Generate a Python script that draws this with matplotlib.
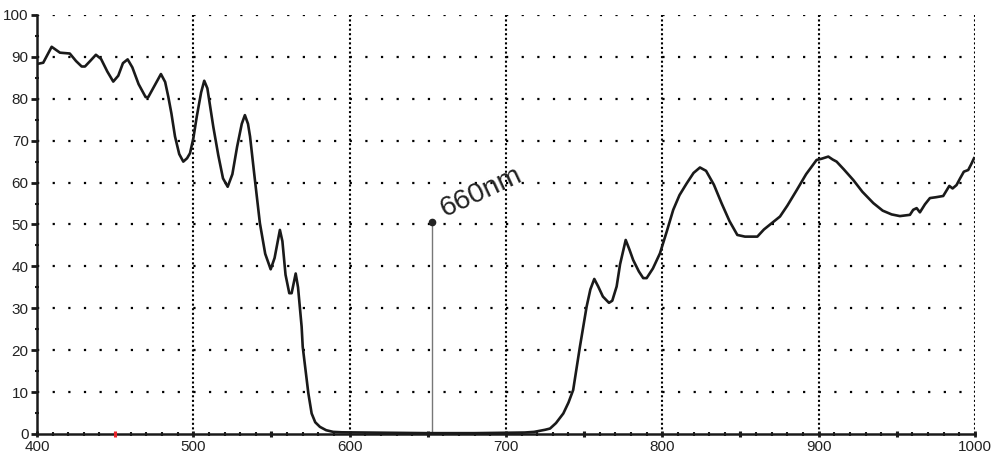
import matplotlib.pyplot as plt
from matplotlib.ticker import MultipleLocator

plt.rcParams['font.family'] = ['Liberation Sans', 'DejaVu Sans']

# wavelength (nm) and transmission (%)
wavelength = [400, 404, 409.4, 414.7, 421, 425, 428.6, 430.7, 434, 437.7, 441, 445,
              448.8, 452, 455, 458, 461, 465, 469.5, 471.2, 475, 479.3, 482, 484,
              486, 488.3, 491, 493.6, 496, 497.9, 500, 502.2, 505, 507, 509, 512.8,
              516, 519, 522, 525, 528, 531, 533, 535, 536.3, 539, 542.6, 546, 549.5,
              552, 555.4, 557, 559, 561.4, 562.9, 565.5, 567, 569.3, 570, 573.6,
              575.7, 578, 581, 585, 589.5, 595, 620, 650, 680, 700, 712, 718, 722,
              725, 728.2, 732, 736.7, 740, 743, 747.3, 751.6, 754, 756.5, 759, 762,
              765.9, 768, 770.8, 773, 776.6, 779, 781.4, 785, 787.8, 790, 794, 798.5,
              803, 807, 811, 815.6, 820, 824.1, 828, 833, 838, 843, 848, 852.9, 860.8,
              865, 870, 875.3, 880, 886, 892, 898.7, 902, 906.2, 909, 911.5, 916,
              922.2, 928, 935, 941, 946.7, 952, 958.4, 960.5, 962.7, 964.8, 968,
              971.2, 975, 979.7, 983.6, 985.7, 988.2, 990.5, 992.9, 995.7, 997.5,
              999.4]
transmission = [88.3, 88.6, 92.4, 91.0, 90.8, 89.0, 87.7, 87.7, 89.0, 90.5, 89.5, 86.5,
                84.1, 85.5, 88.5, 89.4, 87.5, 83.5, 80.4, 80.4, 83.0, 85.9, 84.0, 80.5,
                76.5, 71.0, 66.8, 65.0, 65.8, 67.0, 70.5, 75.7, 81.5, 84.3, 82.5, 73.3,
                66.5, 61.0, 59.0, 62.0, 68.5, 74.0, 76.1, 74.0, 71.0, 62.0, 50.3, 43.0,
                39.3, 42.0, 48.7, 46.0, 38.0, 33.6, 33.6, 38.3, 35.0, 25.6, 20.8, 9.7,
                4.9, 2.8, 1.7, 0.9, 0.5, 0.4, 0.3, 0.2, 0.2, 0.3, 0.35, 0.5, 0.8,
                1.0, 1.3, 2.6, 4.9, 7.5, 10.5, 20.8, 30.4, 34.5, 37.0, 35.2, 32.8,
                31.3, 31.8, 35.2, 40.5, 46.3, 44.0, 41.5, 38.8, 37.2, 37.2, 39.5, 43.1,
                48.5, 53.5, 57.0, 59.8, 62.3, 63.6, 62.8, 59.5, 55.0, 50.8, 47.5, 47.1,
                47.1, 48.8, 50.3, 51.9, 54.5, 58.2, 62.0, 65.4, 65.7, 66.2, 65.5, 65.0,
                63.2, 60.6, 57.8, 55.1, 53.3, 52.4, 52.0, 52.3, 53.5, 53.9, 52.9, 54.8,
                56.3, 56.5, 56.8, 59.2, 58.6, 59.4, 61.0, 62.6, 63.0, 64.3, 65.8]

marker_x = 652.5
marker_y = 50.7
marker_label = '660nm'
red_tick = 450

fig = plt.figure(figsize=(9.91, 4.59), dpi=100)
ax = fig.add_axes([0.0373, 0.0545, 0.9465, 0.9129])

ax.set_xlim(400, 1000)
ax.set_ylim(0, 100)

# sparse square dots across, dense dots down
for y in range(10, 101, 10):
    ax.axhline(y, color='black', lw=1.6, dashes=(1, 6.035), zorder=1)
for x in range(500, 1001, 100):
    ax.axvline(x, color='black', lw=1.5, dashes=(1, 1.2), zorder=1)

ax.plot(wavelength, transmission, color='#1a1a1a', lw=1.9, zorder=3,
        solid_joinstyle='round')

ax.plot([marker_x, marker_x], [0, marker_y], color='#777777', lw=1.0, zorder=2)
ax.plot([marker_x], [marker_y], 'o', color='#222222', ms=4.5, zorder=4)
ax.text(660.5, 51.9, marker_label, rotation=25, rotation_mode='anchor',
        ha='left', va='baseline', fontsize=20.5, color='#222222')

for side in ['top', 'right']:
    ax.spines[side].set_visible(False)
for side in ['left', 'bottom']:
    ax.spines[side].set_linewidth(1.8)
    ax.spines[side].set_color('#1a1a1a')

ax.xaxis.set_major_locator(MultipleLocator(100))
ax.xaxis.set_minor_locator(MultipleLocator(10))
ax.yaxis.set_major_locator(MultipleLocator(10))
ax.yaxis.set_minor_locator(MultipleLocator(5))
ax.tick_params(axis='both', which='major', labelsize=11, labelcolor='#222222',
               color='#1a1a1a')
ax.tick_params(axis='x', which='major', direction='inout', length=5, width=2, pad=2)
ax.tick_params(axis='x', which='minor', direction='inout', length=3, width=1.5,
               color='#1a1a1a')
ax.tick_params(axis='y', which='major', direction='out', length=4, width=2, pad=2)
ax.tick_params(axis='y', which='minor', direction='inout', length=3, width=1.5,
               color='#1a1a1a')

# half-hundred ticks a little heavier, the 450 one red
ax.plot([550, 650, 750, 850, 950], [0] * 5, '|', color='#1a1a1a', ms=5, mew=2.2,
        clip_on=False, zorder=5)
ax.plot([red_tick], [0], '|', color='#e8242a', ms=5, mew=2.2, clip_on=False, zorder=5)

fig.savefig('out.png', dpi=100)
